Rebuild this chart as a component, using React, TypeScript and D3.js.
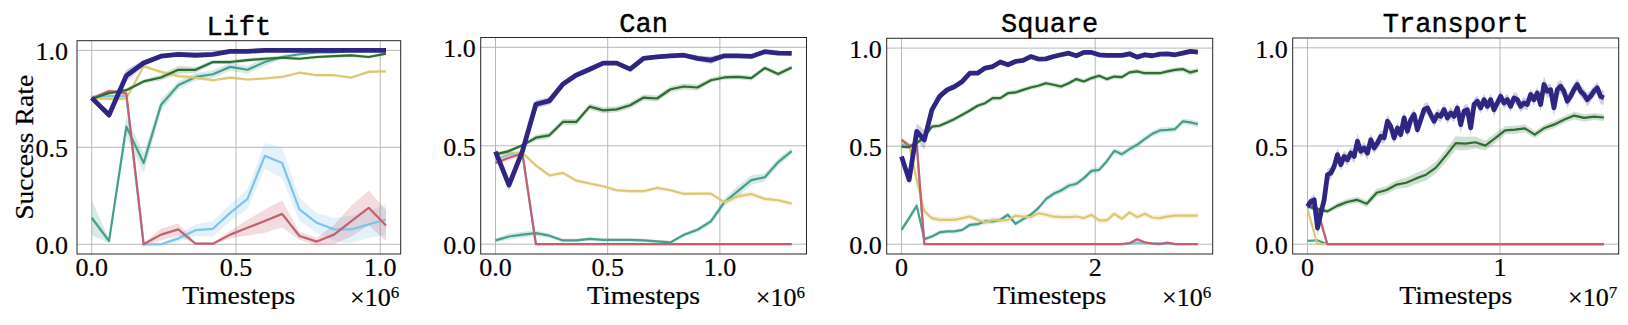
import React from "react";
import * as d3 from "d3";

// ---------- colours ----------
const COLORS: Record<string, string> = {
  navy: "#2e2682",
  blue: "#7ec3ea",
  teal: "#44a08c",
  green: "#2a6e30",
  yellow: "#dcc872",
  red: "#c4606e",
};
const DRAW_ORDER = ["blue", "teal", "yellow", "red", "green", "navy"];

// ---------- Lift (x step 6e4, 18 points) ----------
const liftStep = 60000;
const liftNavy = [0.755, 0.667, 0.87, 0.935, 0.97, 0.98, 0.975, 0.98, 0.995, 0.995, 1.0, 1.0, 1.0, 1.0, 1.0, 1.0, 1.0, 1.0];
const liftNavyStd = [0.01, 0.02, 0.03, 0.015, 0.01, 0.01, 0.01, 0.005, 0.005, 0.005, 0.003, 0.003, 0.003, 0.003, 0.003, 0.003, 0.003, 0.003];
const liftGreen = [0.75, 0.78, 0.795, 0.84, 0.86, 0.9, 0.9, 0.94, 0.94, 0.95, 0.957, 0.962, 0.957, 0.966, 0.97, 0.974, 0.966, 0.983];
const liftGreenStd = [0.005, 0.01, 0.01, 0.01, 0.015, 0.02, 0.015, 0.01, 0.01, 0.01, 0.01, 0.008, 0.008, 0.008, 0.008, 0.008, 0.008, 0.008];
const liftTeal = [0.137, 0.017, 0.607, 0.419, 0.718, 0.82, 0.863, 0.877, 0.915, 0.9, 0.94, 0.966, 0.98, 0.99, 0.99, 1.0, 1.0, 1.0];
const liftTealStd = [0.09, 0.01, 0.05, 0.05, 0.03, 0.02, 0.02, 0.02, 0.02, 0.02, 0.02, 0.01, 0.01, 0.005, 0.005, 0.005, 0.005, 0.005];
const liftYellow = [0.752, 0.75, 0.752, 0.918, 0.889, 0.867, 0.86, 0.846, 0.86, 0.85, 0.855, 0.863, 0.885, 0.872, 0.872, 0.86, 0.889, 0.892];
const liftYellowStd = [0.005, 0.01, 0.01, 0.01, 0.01, 0.01, 0.01, 0.008, 0.008, 0.008, 0.008, 0.008, 0.008, 0.008, 0.008, 0.008, 0.008, 0.008];
const liftBlue = [0.76, 0.764, 0.764, 0.0, 0.0, 0.03, 0.073, 0.08, 0.162, 0.234, 0.456, 0.419, 0.18, 0.111, 0.077, 0.077, 0.103, 0.128];
const liftBlueStd = [0.01, 0.01, 0.01, 0.0, 0.005, 0.02, 0.03, 0.04, 0.045, 0.05, 0.066, 0.08, 0.06, 0.05, 0.06, 0.07, 0.07, 0.08];
const liftRed = [0.752, 0.79, 0.778, 0.0, 0.05, 0.077, 0.003, 0.003, 0.05, 0.085, 0.12, 0.157, 0.043, 0.014, 0.05, 0.12, 0.188, 0.097];
const liftRedStd = [0.01, 0.01, 0.01, 0.005, 0.03, 0.03, 0.005, 0.005, 0.02, 0.04, 0.06, 0.07, 0.02, 0.02, 0.05, 0.08, 0.09, 0.08];

// ---------- Can (x step 6e4, 23 points) ----------
const canStep = 60000;
const canNavy = [0.47, 0.3, 0.473, 0.711, 0.728, 0.813, 0.859, 0.889, 0.92, 0.92, 0.889, 0.944, 0.952, 0.957, 0.96, 0.944, 0.935, 0.957, 0.957, 0.954, 0.978, 0.971, 0.969];
const canNavyStd = [0.02, 0.03, 0.02, 0.02, 0.02, 0.015, 0.015, 0.015, 0.01, 0.01, 0.01, 0.01, 0.01, 0.01, 0.01, 0.015, 0.02, 0.01, 0.01, 0.01, 0.008, 0.008, 0.008];
const canGreen = [0.456, 0.473, 0.502, 0.541, 0.553, 0.621, 0.621, 0.699, 0.68, 0.685, 0.706, 0.745, 0.74, 0.787, 0.801, 0.796, 0.833, 0.847, 0.85, 0.844, 0.895, 0.864, 0.898];
const canGreenStd = [0.01, 0.01, 0.01, 0.015, 0.015, 0.015, 0.015, 0.015, 0.015, 0.015, 0.015, 0.015, 0.015, 0.015, 0.015, 0.015, 0.012, 0.012, 0.012, 0.012, 0.012, 0.012, 0.012];
const canTeal = [0.019, 0.039, 0.048, 0.056, 0.043, 0.019, 0.019, 0.027, 0.022, 0.022, 0.022, 0.019, 0.014, 0.009, 0.048, 0.073, 0.116, 0.213, 0.269, 0.325, 0.34, 0.417, 0.473];
const canTealStd = [0.01, 0.015, 0.015, 0.015, 0.01, 0.008, 0.008, 0.008, 0.008, 0.008, 0.008, 0.008, 0.008, 0.008, 0.01, 0.012, 0.015, 0.02, 0.025, 0.025, 0.02, 0.02, 0.015];
const canYellow = [0.456, 0.464, 0.464, 0.4, 0.349, 0.362, 0.323, 0.308, 0.294, 0.274, 0.269, 0.269, 0.286, 0.274, 0.255, 0.257, 0.257, 0.213, 0.243, 0.255, 0.23, 0.223, 0.206];
const canYellowStd = [0.01, 0.01, 0.01, 0.01, 0.01, 0.01, 0.01, 0.01, 0.01, 0.01, 0.01, 0.01, 0.01, 0.01, 0.01, 0.01, 0.01, 0.01, 0.015, 0.015, 0.012, 0.012, 0.012];
const canBlue = [0.43, 0.456, 0.46, 0, 0, 0, 0, 0, 0, 0, 0, 0, 0, 0, 0, 0, 0, 0, 0, 0, 0, 0, 0];
const canRed = [0.413, 0.439, 0.461, 0, 0, 0, 0, 0, 0, 0, 0, 0, 0, 0, 0, 0, 0, 0, 0, 0, 0, 0, 0];
const canRedStd = [0.01, 0.015, 0.01, 0, 0, 0, 0, 0, 0, 0, 0, 0, 0, 0, 0, 0, 0, 0, 0, 0, 0, 0, 0];

// ---------- Square (40 points up to 3.06e6) ----------
const squareEnd = 3.06e6;
const squareNavy = [0.447, 0.328, 0.575, 0.532, 0.685, 0.753, 0.787, 0.804, 0.83, 0.872, 0.872, 0.898, 0.906, 0.929, 0.915, 0.932, 0.937, 0.957, 0.944, 0.945, 0.957, 0.966, 0.974, 0.961, 0.978, 0.978, 0.966, 0.963, 0.963, 0.963, 0.971, 0.954, 0.966, 0.961, 0.969, 0.971, 0.966, 0.974, 0.983, 0.98];
const squareNavyStd = [0.02, 0.02, 0.04, 0.05, 0.02, 0.02, 0.015, 0.015, 0.015, 0.01, 0.01, 0.01, 0.01, 0.01, 0.01, 0.01, 0.01, 0.01, 0.01, 0.01, 0.01, 0.01, 0.01, 0.01, 0.01, 0.01, 0.01, 0.01, 0.01, 0.01, 0.01, 0.01, 0.01, 0.01, 0.01, 0.01, 0.01, 0.01, 0.01, 0.01];
const squareGreen = [0.498, 0.495, 0.515, 0.546, 0.6, 0.604, 0.621, 0.639, 0.66, 0.682, 0.706, 0.719, 0.745, 0.745, 0.77, 0.774, 0.787, 0.799, 0.808, 0.821, 0.813, 0.804, 0.821, 0.842, 0.83, 0.847, 0.859, 0.842, 0.855, 0.852, 0.876, 0.881, 0.872, 0.872, 0.872, 0.881, 0.889, 0.893, 0.876, 0.886];
const squareGreenStd = [0.01, 0.01, 0.012, 0.012, 0.012, 0.012, 0.012, 0.012, 0.012, 0.012, 0.012, 0.012, 0.012, 0.012, 0.012, 0.012, 0.012, 0.012, 0.012, 0.012, 0.012, 0.012, 0.012, 0.012, 0.012, 0.012, 0.012, 0.012, 0.012, 0.012, 0.012, 0.012, 0.012, 0.012, 0.012, 0.012, 0.012, 0.012, 0.015, 0.012];
const squareTeal = [0.073, 0.133, 0.196, 0.026, 0.039, 0.06, 0.065, 0.065, 0.073, 0.099, 0.102, 0.116, 0.116, 0.124, 0.15, 0.104, 0.128, 0.15, 0.184, 0.23, 0.257, 0.274, 0.298, 0.308, 0.337, 0.374, 0.379, 0.422, 0.476, 0.459, 0.485, 0.507, 0.536, 0.563, 0.58, 0.583, 0.587, 0.626, 0.621, 0.612];
const squareTealStd = [0.015, 0.015, 0.02, 0.01, 0.01, 0.01, 0.01, 0.01, 0.01, 0.012, 0.012, 0.012, 0.012, 0.012, 0.012, 0.012, 0.012, 0.012, 0.012, 0.015, 0.015, 0.015, 0.015, 0.015, 0.015, 0.015, 0.015, 0.015, 0.015, 0.015, 0.015, 0.015, 0.015, 0.015, 0.015, 0.015, 0.015, 0.015, 0.015, 0.015];
const squareYellow = [0.532, 0.507, 0.328, 0.167, 0.133, 0.124, 0.124, 0.124, 0.133, 0.141, 0.124, 0.111, 0.124, 0.121, 0.124, 0.145, 0.141, 0.138, 0.158, 0.15, 0.141, 0.138, 0.138, 0.141, 0.133, 0.15, 0.121, 0.121, 0.155, 0.129, 0.162, 0.138, 0.155, 0.136, 0.133, 0.141, 0.146, 0.146, 0.146, 0.146];
const squareYellowStd = [0.015, 0.015, 0.02, 0.015, 0.015, 0.015, 0.015, 0.015, 0.015, 0.015, 0.015, 0.015, 0.015, 0.015, 0.015, 0.015, 0.015, 0.015, 0.015, 0.015, 0.015, 0.015, 0.015, 0.015, 0.015, 0.015, 0.015, 0.015, 0.015, 0.015, 0.015, 0.015, 0.015, 0.015, 0.015, 0.015, 0.015, 0.015, 0.015, 0.015];
const squareBlue = [0.51, 0.5, 0.51, 0, 0, 0, 0, 0, 0, 0, 0, 0, 0, 0, 0, 0, 0, 0, 0, 0, 0, 0, 0, 0, 0, 0, 0, 0, 0, 0, 0.003, 0.008, 0.006, 0.005, 0.004, 0.003, 0, 0, 0, 0];
const squareBlueStd = [0.01, 0.01, 0.01, 0, 0, 0, 0, 0, 0, 0, 0, 0, 0, 0, 0, 0, 0, 0, 0, 0, 0, 0, 0, 0, 0, 0, 0, 0, 0, 0, 0.003, 0.008, 0.006, 0.005, 0.004, 0.003, 0, 0, 0, 0];
const squareRed = [0.532, 0.502, 0.512, 0, 0, 0, 0, 0, 0, 0, 0, 0, 0, 0, 0, 0, 0, 0, 0, 0, 0, 0, 0, 0, 0, 0, 0, 0, 0, 0, 0.005, 0.025, 0.01, 0.003, 0, 0.008, 0, 0, 0, 0];
const squareRedStd = [0.01, 0.01, 0.01, 0, 0, 0, 0, 0, 0, 0, 0, 0, 0, 0, 0, 0, 0, 0, 0, 0, 0, 0, 0, 0, 0, 0, 0, 0, 0, 0, 0.004, 0.01, 0.005, 0.002, 0, 0.004, 0, 0, 0, 0];

// ---------- Transport ----------
const transportEnd = 1.54e7;
const transportNavy = [0.192, 0.218, 0.226, 0.082, 0.158, 0.226, 0.354, 0.362, 0.396, 0.456, 0.405, 0.447, 0.43, 0.464, 0.447, 0.524, 0.473, 0.49, 0.464, 0.532, 0.49, 0.515, 0.549, 0.541, 0.626, 0.6, 0.541, 0.592, 0.558, 0.643, 0.575, 0.634, 0.66, 0.583, 0.634, 0.685, 0.694, 0.66, 0.626, 0.66, 0.651, 0.685, 0.643, 0.668, 0.651, 0.694, 0.609, 0.677, 0.685, 0.592, 0.711, 0.728, 0.694, 0.736, 0.702, 0.736, 0.685, 0.719, 0.753, 0.719, 0.736, 0.702, 0.745, 0.736, 0.702, 0.719, 0.711, 0.762, 0.736, 0.77, 0.711, 0.813, 0.779, 0.787, 0.694, 0.787, 0.804, 0.779, 0.728, 0.753, 0.787, 0.813, 0.779, 0.762, 0.736, 0.753, 0.779, 0.796, 0.753, 0.745];
const transportNavyStd = [0.02, 0.02, 0.03, 0.04, 0.04, 0.03, 0.03, 0.03, 0.03, 0.035, 0.03, 0.03, 0.03, 0.03, 0.035, 0.04, 0.03, 0.03, 0.035, 0.03, 0.03, 0.03, 0.03, 0.03, 0.035, 0.03, 0.03, 0.03, 0.03, 0.035, 0.03, 0.03, 0.03, 0.03, 0.03, 0.03, 0.03, 0.03, 0.03, 0.03, 0.03, 0.03, 0.03, 0.03, 0.03, 0.03, 0.045, 0.03, 0.03, 0.04, 0.03, 0.03, 0.03, 0.03, 0.03, 0.03, 0.035, 0.03, 0.03, 0.03, 0.03, 0.03, 0.03, 0.03, 0.03, 0.03, 0.03, 0.03, 0.03, 0.03, 0.035, 0.04, 0.035, 0.03, 0.045, 0.035, 0.035, 0.03, 0.035, 0.03, 0.03, 0.03, 0.03, 0.03, 0.035, 0.03, 0.03, 0.03, 0.04, 0.035];
const transportGreen = [0.192, 0.18, 0.167, 0.195, 0.215, 0.226, 0.206, 0.262, 0.276, 0.303, 0.313, 0.335, 0.354, 0.39, 0.45, 0.515, 0.512, 0.519, 0.502, 0.54, 0.58, 0.583, 0.59, 0.558, 0.592, 0.61, 0.635, 0.655, 0.643, 0.65, 0.645];
const transportGreenStd = [0.01, 0.01, 0.012, 0.015, 0.015, 0.015, 0.018, 0.02, 0.02, 0.022, 0.025, 0.028, 0.03, 0.03, 0.032, 0.035, 0.035, 0.03, 0.025, 0.025, 0.02, 0.02, 0.02, 0.018, 0.018, 0.018, 0.018, 0.02, 0.02, 0.018, 0.018];
const transportTeal = [0.017, 0.02, 0, 0, 0, 0, 0, 0, 0, 0, 0, 0, 0, 0, 0, 0, 0, 0, 0, 0, 0, 0, 0, 0, 0, 0, 0, 0, 0, 0, 0];
const transportYellow = [0.18, 0, 0, 0, 0, 0, 0, 0, 0, 0, 0, 0, 0, 0, 0, 0, 0, 0, 0, 0, 0, 0, 0, 0, 0, 0, 0, 0, 0, 0, 0];
const transportBlue = [0.19, 0.17, 0, 0, 0, 0, 0, 0, 0, 0, 0, 0, 0, 0, 0, 0, 0, 0, 0, 0, 0, 0, 0, 0, 0, 0, 0, 0, 0, 0, 0];
const transportRed = [0.21, 0.18, 0, 0, 0, 0, 0, 0, 0, 0, 0, 0, 0, 0, 0, 0, 0, 0, 0, 0, 0, 0, 0, 0, 0, 0, 0, 0, 0, 0, 0];

// ---------- ticks ----------
const yTicks = [0, 0.5, 1.0];
const yTickLabels = ["0.0", "0.5", "1.0"];
const liftXTicks = [0, 0.5e6, 1e6];
const liftXTickLabels = ["0.0", "0.5", "1.0"];
const canXTicks = [0, 0.5e6, 1e6];
const canXTickLabels = ["0.0", "0.5", "1.0"];
const squareXTicks = [0, 2e6];
const squareXTickLabels = ["0", "2"];
const transportXTicks = [0, 1e7];
const transportXTickLabels = ["0", "1"];

type Series = { key: string; x: number[]; y: number[]; s?: number[] };

const byStep = (n: number, step: number) => d3.range(n).map((i) => i * step);
const byEnd = (n: number, end: number) => d3.range(n).map((i) => (i * end) / (n - 1));

const liftX = byStep(liftNavy.length, liftStep);
const canX = byStep(canNavy.length, canStep);
const squareX = byEnd(squareNavy.length, squareEnd);
const tNavyX = byEnd(transportNavy.length, transportEnd);
const tX = byEnd(transportGreen.length, transportEnd);

const panels = [
  {
    title: "Lift", left: 77, right: 400.7, top: 40.7, bottom: 254, yPad: 9, exp: "6",
    xTicks: liftXTicks, xTickLabels: liftXTickLabels, ylabel: true,
    series: [
      { key: "navy", x: liftX, y: liftNavy, s: liftNavyStd },
      { key: "green", x: liftX, y: liftGreen, s: liftGreenStd },
      { key: "teal", x: liftX, y: liftTeal, s: liftTealStd },
      { key: "yellow", x: liftX, y: liftYellow, s: liftYellowStd },
      { key: "blue", x: liftX, y: liftBlue, s: liftBlueStd },
      { key: "red", x: liftX, y: liftRed, s: liftRedStd },
    ] as Series[],
  },
  {
    title: "Can", left: 480.7, right: 806.5, top: 37.5, bottom: 254, yPad: 5, exp: "6",
    xTicks: canXTicks, xTickLabels: canXTickLabels, ylabel: false,
    series: [
      { key: "navy", x: canX, y: canNavy, s: canNavyStd },
      { key: "green", x: canX, y: canGreen, s: canGreenStd },
      { key: "teal", x: canX, y: canTeal, s: canTealStd },
      { key: "yellow", x: canX, y: canYellow, s: canYellowStd },
      { key: "blue", x: canX, y: canBlue },
      { key: "red", x: canX, y: canRed, s: canRedStd },
    ] as Series[],
  },
  {
    title: "Square", left: 886.7, right: 1212.7, top: 38.3, bottom: 254, yPad: 5, exp: "6",
    xTicks: squareXTicks, xTickLabels: squareXTickLabels, ylabel: false,
    series: [
      { key: "navy", x: squareX, y: squareNavy, s: squareNavyStd },
      { key: "green", x: squareX, y: squareGreen, s: squareGreenStd },
      { key: "teal", x: squareX, y: squareTeal, s: squareTealStd },
      { key: "yellow", x: squareX, y: squareYellow, s: squareYellowStd },
      { key: "blue", x: squareX, y: squareBlue, s: squareBlueStd },
      { key: "red", x: squareX, y: squareRed, s: squareRedStd },
    ] as Series[],
  },
  {
    title: "Transport", left: 1292.7, right: 1618.7, top: 38, bottom: 254, yPad: 5, exp: "7",
    xTicks: transportXTicks, xTickLabels: transportXTickLabels, ylabel: false,
    series: [
      { key: "navy", x: tNavyX, y: transportNavy, s: transportNavyStd },
      { key: "green", x: tX, y: transportGreen, s: transportGreenStd },
      { key: "teal", x: tX, y: transportTeal },
      { key: "yellow", x: tX, y: transportYellow },
      { key: "blue", x: tX, y: transportBlue },
      { key: "red", x: tX, y: transportRed },
    ] as Series[],
  },
];

const SERIF = "'Liberation Serif', 'DejaVu Serif', serif";
const MONO = "'Liberation Mono', 'DejaVu Sans Mono', monospace";

function Panel({ p }: { p: (typeof panels)[number] }) {
  const xMax = d3.max(p.series.flatMap((s) => s.x)) as number;
  const x = d3.scaleLinear().domain([-0.05 * xMax, 1.05 * xMax]).range([p.left, p.right]);
  const y = d3.scaleLinear().domain([-0.05, 1.05]).range([p.bottom, p.top]);
  const ordered = DRAW_ORDER.map((k) => p.series.find((s) => s.key === k)).filter(Boolean) as Series[];
  const cx = (p.left + p.right) / 2;
  const cy = (p.top + p.bottom) / 2;
  const textStroke = { stroke: "#000", strokeWidth: 0.2 };
  return (
    <g>
      {/* grid */}
      {yTicks.map((t) => (
        <line key={"gy" + t} x1={p.left} x2={p.right} y1={y(t)} y2={y(t)} stroke="#b0b0b0" strokeWidth={0.9} />
      ))}
      {p.xTicks.map((t) => (
        <line key={"gx" + t} x1={x(t)} x2={x(t)} y1={p.top} y2={p.bottom} stroke="#b0b0b0" strokeWidth={0.9} />
      ))}
      {/* bands */}
      {ordered.map((s) =>
        s.s ? (
          <path
            key={"b" + s.key}
            d={
              d3
                .area<number>()
                .x((_, i) => x(s.x[i]))
                .y0((d, i) => y(d - (s.s as number[])[i]))
                .y1((d, i) => y(d + (s.s as number[])[i]))(s.y) as string
            }
            fill={COLORS[s.key]}
            fillOpacity={0.22}
            stroke="none"
          />
        ) : null
      )}
      {/* lines */}
      {ordered.map((s) => (
        <path
          key={"l" + s.key}
          d={d3.line<number>().x((_, i) => x(s.x[i])).y((d) => y(d))(s.y) as string}
          fill="none"
          stroke={COLORS[s.key]}
          strokeWidth={s.key === "navy" ? 4.8 : 2.2}
          strokeLinejoin="round"
          strokeLinecap="butt"
        />
      ))}
      {/* frame */}
      <rect x={p.left} y={p.top} width={p.right - p.left} height={p.bottom - p.top} fill="none" stroke="#262626" strokeWidth={1} />
      {/* y tick labels */}
      {yTicks.map((t, i) => (
        <text key={"yl" + t} x={p.left - p.yPad} y={y(t) + 10} textAnchor="end" fontFamily={SERIF} fontSize={26} fill="#000" {...textStroke}>
          {yTickLabels[i]}
        </text>
      ))}
      {/* x tick labels */}
      {p.xTicks.map((t, i) => (
        <text key={"xl" + t} x={x(t)} y={p.bottom + 22} textAnchor="middle" fontFamily={SERIF} fontSize={26} fill="#000" {...textStroke}>
          {p.xTickLabels[i]}
        </text>
      ))}
      {/* x label */}
      <text x={cx} y={304} textAnchor="middle" fontFamily={SERIF} fontSize={25} textLength={113} lengthAdjust="spacingAndGlyphs" fill="#000" {...textStroke}>
        Timesteps
      </text>
      {/* offset text: ×10^exp */}
      <text x={p.right - 10} y={306} textAnchor="end" fontFamily={SERIF} fontSize={26} fill="#000" {...textStroke}>
        ×10
      </text>
      <text x={p.right - 10} y={298} textAnchor="start" fontFamily={SERIF} fontSize={17} fill="#000" {...textStroke}>
        {p.exp}
      </text>
      {/* title */}
      <text x={cx} y={p.top - 6} textAnchor="middle" fontFamily={MONO} fontSize={27} fill="#000" stroke="#000" strokeWidth={0.4}>
        {p.title}
      </text>
      {p.ylabel ? (
        <text
          transform={`translate(33,${cy}) rotate(-90)`}
          textAnchor="middle"
          fontFamily={SERIF}
          fontSize={26}
          textLength={145}
          lengthAdjust="spacingAndGlyphs"
          fill="#000"
          {...textStroke}
        >
          Success Rate
        </text>
      ) : null}
    </g>
  );
}

export default function App() {
  return (
    <svg
      width={1628}
      height={325}
      viewBox="0 0 1628 325"
      style={{ position: "absolute", left: 0, top: 0, display: "block", background: "#fff" }}
    >
      <rect x={0} y={0} width={1628} height={325} fill="#fff" />
      {panels.map((p) => (
        <Panel key={p.title} p={p} />
      ))}
    </svg>
  );
}
